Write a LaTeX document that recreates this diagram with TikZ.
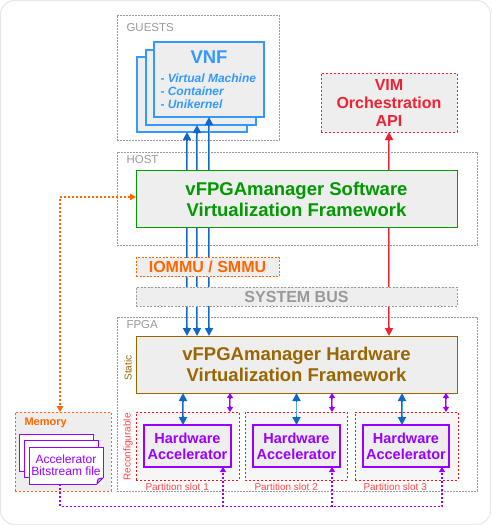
\documentclass[tikz,border=0pt]{standalone}
\usepackage{fontspec}
\setmainfont{Liberation Sans}
\usetikzlibrary{arrows.meta}
\definecolor{cgray}{HTML}{999999}
\definecolor{cfill}{HTML}{EEEEEE}
\definecolor{cslot}{HTML}{F6F6F6}
\definecolor{cblue}{HTML}{3399FF}
\definecolor{cbdark}{HTML}{1166CC}
\definecolor{cblight}{HTML}{5AA5F0}
\definecolor{cred}{HTML}{EE2233}
\definecolor{crlight}{HTML}{FF8A95}
\definecolor{cgreen}{HTML}{009900}
\definecolor{corange}{HTML}{FF6600}
\definecolor{cbrown}{HTML}{996600}
\definecolor{cpurple}{HTML}{9900FF}
\definecolor{cplight}{HTML}{CC88FF}
\definecolor{cslotred}{HTML}{FF1111}
\definecolor{cslottxt}{HTML}{FF4444}
\definecolor{cborder}{HTML}{E6E6E6}
\begin{document}
\begin{tikzpicture}[x=1pt,y=-1pt,
  every node/.style={inner sep=0pt,outer sep=0pt},
  container/.style={draw=cgray,dash pattern=on 2pt off 1pt,line width=0.7pt},
  tag/.style={text=cgray,anchor=west,font=\fontsize{11.5}{12}\selectfont},
  vnfbox/.style={draw=cblue,fill=cfill,line width=1.1pt,minimum width=110pt,minimum height=75pt},
  bigtext/.style={font=\bfseries\fontsize{18.5}{21}\selectfont,align=center},
  midtext/.style={font=\bfseries\fontsize{16}{18}\selectfont,align=center},
  mainbox/.style={fill=cfill,line width=1pt,minimum width=321pt,minimum height=57pt},
  barbox/.style={fill=cfill,dash pattern=on 2pt off 1.5pt,line width=0.9pt,minimum height=19pt},
  slotbox/.style={draw=cslotred,fill=cslot,dash pattern=on 2pt off 2pt,line width=1pt,minimum width=103pt,minimum height=68pt},
  accbox/.style={color=cpurple,draw=cpurple,fill=cfill,line width=1.3pt,minimum width=87pt,minimum height=42pt,font=\bfseries\fontsize{14.5}{16}\selectfont,align=center},
  slotlbl/.style={text=cslottxt,anchor=west,font=\fontsize{10}{11}\selectfont},
  filebox/.style={draw=cpurple,fill=white,line width=1pt,minimum width=74pt,minimum height=37pt},
  bigtip/.tip={Triangle[length=8pt,width=8pt]},
  smalltip/.tip={Triangle[length=5pt,width=6pt]},
  otip/.tip={Triangle[length=6pt,width=6.5pt]},
  barrow/.style={draw=cbdark,line width=1.8pt,arrows={bigtip-bigtip},
    postaction={draw=cblight,line width=0.6pt,arrows=-,shorten <=9pt,shorten >=9pt}},
  rarrow/.style={draw=cred,line width=1.8pt,arrows={bigtip-bigtip},
    postaction={draw=crlight,line width=0.6pt,arrows=-,shorten <=9pt,shorten >=9pt}},
  parrow/.style={draw=cpurple,line width=1.3pt,arrows={smalltip-smalltip},
    postaction={draw=cplight,line width=0.4pt,arrows=-,shorten <=6pt,shorten >=6pt}},
  pdot/.style={draw=cpurple,line width=1.1pt,dash pattern=on 2pt off 2pt},
  odot/.style={draw=corange,line width=1.1pt,dash pattern=on 2pt off 2pt,arrows={otip-otip}}
]
\useasboundingbox (0,0) rectangle (491,525);
\draw[cborder,line width=1pt,rounded corners=14pt] (0.5,0.5) rectangle (490.5,524.5);

% GUESTS
\node[container,minimum width=162pt,minimum height=125pt] (guests) at (198,77.5) {};
\node[tag] (guestslbl) at (126.5,28) {GUESTS};
\node[vnfbox] (vnf3) at (192,94.5) {};
\node[vnfbox] (vnf2) at (201,87.5) {};
\node[vnfbox] (vnf1) at (209,79.5) {};
\node[bigtext,text=cblue] (vnftitle) at (209,57) {VNF};
\node[anchor=west,text=cblue,font=\bfseries\itshape\fontsize{12}{13}\selectfont,align=left] (vnflist) at (160.5,91) {- Virtual Machine\\- Container\\- Unikernel};

% VIM
\node[draw=cred,fill=cfill,dash pattern=on 2pt off 2pt,line width=1pt,minimum width=136pt,minimum height=59pt,text=cred,midtext] (vim) at (389,102.5) {VIM\\Orchestration\\API};

% containers
\node[container,minimum width=360pt,minimum height=93pt] (host) at (297,198.5) {};
\node[tag] (hostlbl) at (126.5,160) {HOST};
\node[container,minimum width=360pt,minimum height=174pt] (fpga) at (297,404) {};
\node[tag] (fpgalbl) at (126.5,324.5) {FPGA};

% through arrows (behind boxes)
\node[mainbox,draw=cbrown,text=cbrown,bigtext] (hw) at (296.5,364.5) {vFPGAmanager Hardware\\Virtualization Framework};
\draw[barrow] ([xshift=-5pt]vnf3.south) -- ([xshift=-5pt]vnf3.south |- hw.north);
\draw[barrow] ([xshift=-4pt]vnf2.south) -- ([xshift=-4pt]vnf2.south |- hw.north);
\draw[barrow] (vnf1.south) -- (vnf1.south |- hw.north);
\draw[rarrow] (vim.south) -- (vim.south |- hw.north);

\node[mainbox,draw=cgreen,text=cgreen,bigtext] (sw) at (296.5,199) {vFPGAmanager Software\\Virtualization Framework};
\node[barbox,draw=corange,text=corange,midtext,minimum width=143pt] (iommu) at (207.5,267) {IOMMU / SMMU};
\node[barbox,draw=cgray,text=cgray,midtext,minimum width=321pt] (sysbus) at (296.5,296.5) {SYSTEM BUS};

% FPGA internals
\node[rotate=90,text=cbrown,font=\fontsize{10}{11}\selectfont] (staticlbl) at (128,368) {Static};
\node[rotate=90,text=cslottxt,font=\fontsize{10}{11}\selectfont] (reconflbl) at (128,447) {Reconfigurable};
\node[slotbox] (slot1) at (187.5,446) {};
\node[slotbox,minimum width=102pt] (slot2) at (296,446) {};
\node[slotbox] (slot3) at (406.5,446) {};
\node[accbox] (acc1) at (187.5,446) {Hardware\\Accelerator};
\node[accbox] (acc2) at (296.5,446) {Hardware\\Accelerator};
\node[accbox,minimum width=86pt] (acc3) at (406,446) {Hardware\\Accelerator};
\node[slotlbl] (sl1) at (145.5,486.5) {Partition slot 1};
\node[slotlbl] (sl2) at (254.5,486.5) {Partition slot 2};
\node[slotlbl] (sl3) at (363.5,486.5) {Partition slot 3};

\draw[barrow] ([xshift=-4.5pt]acc1.north) -- ([xshift=-4.5pt]acc1.north |- hw.south);
\draw[barrow] (acc2.north) -- (acc2.north |- hw.south);
\draw[barrow] ([xshift=-4pt]acc3.north) -- ([xshift=-4pt]acc3.north |- hw.south);
\draw[parrow] ([xshift=42.5pt]slot1.north) -- ([xshift=42.5pt]slot1.north |- hw.south);
\draw[parrow] ([xshift=36pt]slot2.north) -- ([xshift=36pt]slot2.north |- hw.south);
\draw[parrow] ([xshift=39.5pt]slot3.north) -- ([xshift=39.5pt]slot3.north |- hw.south);

% Memory
\node[draw=corange,fill=cfill,dash pattern=on 2pt off 2pt,line width=1pt,minimum width=96pt,minimum height=79pt] (mem) at (63,451.5) {};
\node[anchor=west,text=corange,font=\bfseries\fontsize{11}{12}\selectfont] (memlbl) at (24.5,423) {Memory};
\node[filebox] (file3) at (56,452.5) {};
\node[filebox] (file2) at (61,458.5) {};
\node[filebox,text=cpurple,font=\fontsize{12}{12}\selectfont,align=center] (file1) at (66,465.5) {Accelerator\\Bitstream file};
\fill[white] ([shift={(1,-8)}]file1.south east) -- ([shift={(1,1)}]file1.south east) -- ([shift={(-8,1)}]file1.south east) -- cycle;
\draw[cpurple,line width=1pt,line join=round,fill=cplight!60!white] ([shift={(0,-6)}]file1.south east) -- ([shift={(-6,0)}]file1.south east) -- ([shift={(-5,-5)}]file1.south east) -- cycle;
\draw[cpurple,line width=1pt] ([shift={(0,-6.5)}]file1.south east) -- (file1.north east);
\draw[cpurple,line width=1pt] ([shift={(-6.5,0)}]file1.south east) -- (file1.south west);

% orange memory connector
\draw[odot] ([yshift=2pt]sw.west) -| ([xshift=-3pt]mem.north);

% purple dotted bitstream connector
\coordinate (pbus) at (0,506.5);
\coordinate (a1) at ([xshift=-8pt]acc1.south east);
\coordinate (a2) at ([xshift=-8pt]acc2.south east);
\coordinate (a3) at ([xshift=-7pt]acc3.south east);
\draw[pdot,arrows={-smalltip}] ([xshift=-6pt]file1.south) |- (pbus -| a3) -- (a3);
\draw[pdot,arrows={-smalltip}] (pbus -| a1) -- (a1);
\draw[pdot,arrows={-smalltip}] (pbus -| a2) -- (a2);
\end{tikzpicture}
\end{document}
